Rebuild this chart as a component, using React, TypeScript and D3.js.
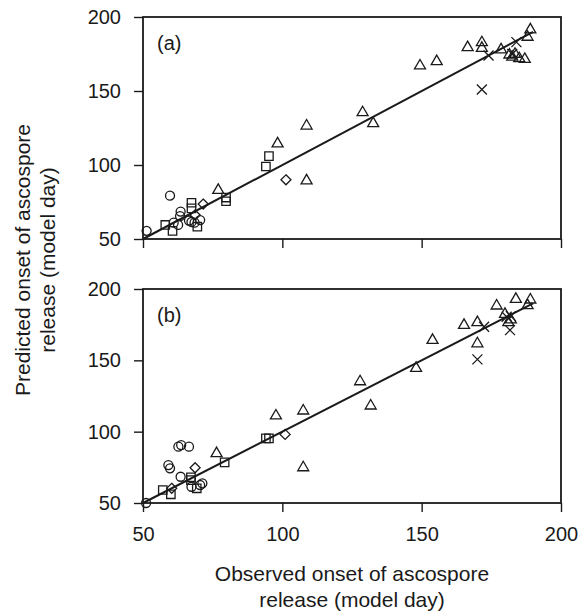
import React, { useEffect, useRef } from 'react';
import * as d3 from 'd3';

type Pt = [number, number];
type AnySelection = d3.Selection<any, unknown, null, undefined>;

// observed (x) vs predicted (y), model day
const axisTicks = [50, 100, 150, 200];
const oneToOne = [50, 190];

const aCircles: Pt[] = [
  [51.3, 55.5], [59.7, 79.3], [61, 61], [62.6, 59.5], [63.5, 68.5], [63.3, 65.5],
  [66.5, 62.5], [67.4, 61.5], [70.5, 62.8], [68.5, 61],
];
const aSquares: Pt[] = [
  [58, 59.5], [60.6, 55.5], [67.4, 74.5], [67.4, 70.7], [69.5, 58.3],
  [79.8, 75.5], [79.8, 78], [94.1, 99], [95.2, 106],
];
const aDiamonds: Pt[] = [[68.7, 66.2], [71.6, 73.6], [101.3, 90]];
const aTriangles: Pt[] = [
  [77, 83.5], [98.3, 115], [108.7, 127], [108.7, 90], [128.8, 136], [132.6, 128.6],
  [149.4, 167.6], [155.4, 170.5], [166.5, 180], [171.6, 183.3], [171.6, 179.5],
  [178.5, 178.5], [181.5, 175], [182.5, 173.5], [183.5, 175.5], [185, 172.5],
  [187, 172], [188, 187], [189, 192],
];
const aCrosses: Pt[] = [[171.6, 151], [174, 174], [184, 183], [182.5, 175]];

const bCircles: Pt[] = [
  [51.1, 50], [59.1, 76.6], [59.7, 74.3], [62.7, 89.5], [63.7, 90.6], [66.5, 89.5],
  [63.5, 68.4], [67.4, 61.4], [70.5, 62.6], [71.3, 63.8],
];
const bSquares: Pt[] = [
  [57.1, 59.1], [60, 56.1], [67.2, 68], [67.2, 66], [69.3, 60.3], [79.3, 78.5],
  [94.1, 95.3], [95.2, 95.3],
];
const bDiamonds: Pt[] = [[60.3, 60.3], [68.7, 74.7], [101, 98.1]];
const bTriangles: Pt[] = [
  [76.4, 85.3], [97.7, 111.7], [107.5, 115.2], [107.5, 75.4], [127.9, 135.7],
  [131.7, 118.7], [148, 145.1], [153.9, 164.7], [165.2, 175.2], [170, 177.1],
  [170, 162.3], [176.9, 188.8], [179.9, 182.9], [181.1, 177.1], [182, 179],
  [183.8, 193.4], [188, 189], [189, 193],
];
const bCrosses: Pt[] = [[170, 150.7], [172.4, 173.5], [181.7, 171.2], [180.5, 180.5], [182, 181]];

const ink = '#1a1a1a';
const font = '"Liberation Sans", Arial, sans-serif';

const shapes: { [k: string]: (x: number, y: number) => string } = {
  circle: (x, y) => `M${x + 4.5},${y}A4.5,4.5 0 1,1 ${x - 4.5},${y}A4.5,4.5 0 1,1 ${x + 4.5},${y}Z`,
  square: (x, y) => `M${x - 4.2},${y - 4.2}h8.4v8.4h-8.4Z`,
  diamond: (x, y) => `M${x},${y - 5}L${x + 5},${y}L${x},${y + 5}L${x - 5},${y}Z`,
  triangle: (x, y) => `M${x},${y - 5.5}L${x + 5.5},${y + 4}L${x - 5.5},${y + 4}Z`,
  cross: (x, y) => `M${x - 5},${y - 5}L${x + 5},${y + 5}M${x + 5},${y - 5}L${x - 5},${y + 5}`,
};

const panels = [
  {
    label: '(a)', top: 17, bottom: 239, xLabels: false,
    series: { circle: aCircles, square: aSquares, diamond: aDiamonds, triangle: aTriangles, cross: aCrosses },
  },
  {
    label: '(b)', top: 289, bottom: 503, xLabels: true,
    series: { circle: bCircles, square: bSquares, diamond: bDiamonds, triangle: bTriangles, cross: bCrosses },
  },
];

const App: React.FC = () => {
  const ref = useRef<SVGSVGElement>(null);

  useEffect(() => {
    const svg = d3.select(ref.current);
    svg.selectAll('*').remove();

    const left = 143;
    const right = 561;
    const x = d3.scaleLinear().domain([50, 200]).range([left, right]);

    panels.forEach((p) => {
      const y = d3.scaleLinear().domain([50, 200]).range([p.bottom, p.top]);
      const g = svg.append('g');

      // frame
      g.append('rect')
        .attr('x', left).attr('y', p.top)
        .attr('width', right - left).attr('height', p.bottom - p.top)
        .attr('fill', 'none').attr('stroke', ink).attr('stroke-width', 1.8);

      g.append('g')
        .attr('transform', `translate(${left},0)`)
        .call(d3.axisLeft(y).tickValues(axisTicks).tickSize(9).tickPadding(13).tickFormat(d3.format('d')))
        .call((a: AnySelection) => {
          a.select('.domain').remove();
          a.selectAll('line').attr('stroke', ink).attr('stroke-width', 1.4);
          a.selectAll('text').attr('fill', ink).style('font', `20px ${font}`);
        });

      g.append('g')
        .attr('transform', `translate(0,${p.bottom})`)
        .call(d3.axisBottom(x).tickValues(axisTicks).tickSize(9).tickPadding(15)
          .tickFormat(p.xLabels ? d3.format('d') : () => ''))
        .call((a: AnySelection) => {
          a.select('.domain').remove();
          a.selectAll('line').attr('stroke', ink).attr('stroke-width', 1.4);
          a.selectAll('text').attr('fill', ink).style('font', `20px ${font}`);
        });

      g.append('text')
        .attr('x', 157).attr('y', p.top + 33)
        .attr('fill', ink).style('font', `20px ${font}`)
        .text(p.label);

      g.append('path')
        .datum(oneToOne)
        .attr('d', d3.line<number>().x((d) => x(d)).y((d) => y(d)))
        .attr('stroke', ink).attr('stroke-width', 2).attr('fill', 'none');

      Object.entries(p.series).forEach(([shape, pts]) => {
        g.selectAll(`.m-${shape}`)
          .data(pts)
          .join('path')
          .attr('class', `m-${shape}`)
          .attr('d', (d: Pt) => shapes[shape](x(d[0]), y(d[1])))
          .attr('fill', 'none')
          .attr('stroke', ink)
          .attr('stroke-width', 1.3);
      });
    });

    const yTitle = svg.append('text')
      .attr('transform', 'translate(30,260) rotate(-90)')
      .attr('text-anchor', 'middle')
      .attr('fill', ink)
      .style('font', `21px ${font}`);
    yTitle.append('tspan').attr('x', 0).attr('y', 0).text('Predicted onset of ascospore');
    yTitle.append('tspan').attr('x', 0).attr('y', 25).text('release (model day)');

    const xTitle = svg.append('text')
      .attr('text-anchor', 'middle')
      .attr('fill', ink)
      .style('font', `21px ${font}`);
    xTitle.append('tspan').attr('x', 352).attr('y', 581).text('Observed onset of ascospore');
    xTitle.append('tspan').attr('x', 352).attr('y', 607).text('release (model day)');
  }, []);

  return (
    <svg
      ref={ref}
      width={580}
      height={613}
      style={{ position: 'absolute', left: 0, top: 0, background: '#fff' }}
    />
  );
};

export default App;
